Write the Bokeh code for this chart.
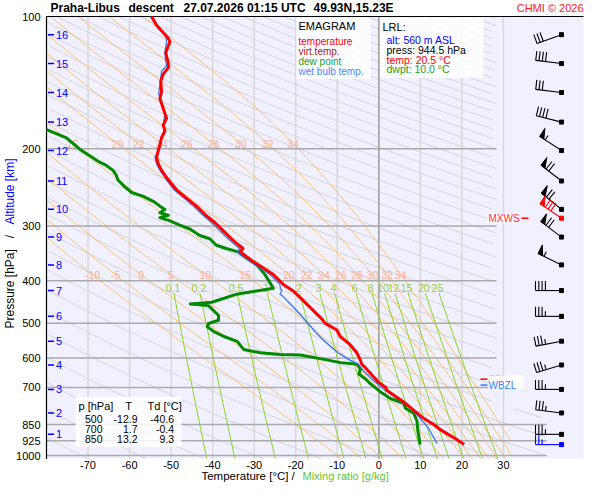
import numpy as np
from bokeh.plotting import figure
from bokeh.models import Range1d
from bokeh.core.properties import value
from bokeh.embed import file_html
from bokeh.resources import INLINE

FONT = "Liberation Sans"

# ---------------- sounding data ----------------
temp_p = [944.5, 938.8, 910.4, 872.0, 850.0, 821.7, 787.0, 754.2, 710.3, 700.0, 680.6, 635.8,
          619.7, 604.0, 583.6, 559.3, 535.7, 517.9, 500.0, 487.7, 451.6, 436.4, 421.9, 407.6,
          387.2, 374.2, 361.7, 343.6, 337.7, 323.6, 307.4, 294.6, 282.2, 270.4, 259.2, 248.2,
          237.9, 229.9, 224.1, 216.6, 209.3, 201.9, 195.8, 188.9, 182.2, 176.7, 170.5, 162.0,
          153.8, 148.4, 140.3, 135.3, 130.6, 127.3, 120.9, 114.1, 112.1, 104.7, 100.0]
temp_T = [20.5, 20.2, 18.0, 14.7, 13.2, 10.7, 8.3, 5.9, 1.9, 1.7, -0.1, -2.9,
          -4.1, -4.5, -5.3, -6.9, -9.3, -10.1, -12.9, -13.8, -17.4, -19.0, -20.6, -23.0,
          -25.4, -27.8, -30.2, -33.4, -32.7, -35.1, -37.5, -39.5, -41.9, -43.9, -46.3, -48.7,
          -50.3, -51.5, -52.3, -53.1, -53.5, -53.1, -52.7, -52.3, -51.5, -51.9, -51.1, -51.9,
          -52.7, -52.3, -52.5, -51.9, -50.6, -50.7, -51.3, -50.3, -50.7, -53.5, -54.7]

dew_p = [181.0, 188.9, 200.6, 207.5, 214.7, 218.4, 224.1, 229.9, 235.8, 244.1, 251.7, 256.9,
         263.6, 270.4, 275.1, 279.9, 283.7, 287.2, 292.1, 298.6, 304.8, 315.4, 320.8, 332.0,
         337.7, 343.6, 355.5, 367.9, 387.2, 404.1, 416.0, 421.9, 429.1, 447.7, 451.6, 455.6,
         467.4, 479.6, 492.0, 500.4, 508.9, 522.1, 535.7, 549.6, 573.8, 583.6, 588.8, 590.6,
         604.0, 614.4, 619.7, 635.8, 652.4, 669.3, 686.7, 716.5, 741.6, 760.8, 780.6, 800.9,
         835.7, 879.7, 938.8, 944.5]
dew_T = [-80.0, -75.2, -72.0, -69.6, -67.2, -65.6, -64.0, -63.2, -62.8, -61.2, -59.5, -56.7,
         -54.3, -52.7, -51.5, -52.7, -50.7, -52.7, -50.3, -47.9, -45.5, -43.1, -40.7, -39.1,
         -36.7, -33.9, -31.8, -29.4, -27.4, -26.2, -25.4, -29.4, -34.2, -40.2, -45.4, -41.0,
         -39.8, -38.6, -38.6, -41.0, -41.3, -39.7, -37.3, -34.1, -32.5, -28.5, -23.7, -18.9,
         -13.2, -9.2, -5.2, -4.4, -4.8, -3.2, -2.0, 0.4, 2.8, 6.0, 6.4, 8.4,
         9.2, 9.4, 9.9, 10.0]

wbt_p = [100.0, 102.1, 107.4, 110.2, 114.1, 121.1, 126.4, 129.7, 133.1, 141.2, 150.0, 159.2,
         167.6, 176.4, 182.5, 187.2, 197.1, 202.2, 209.3, 216.6, 224.1, 229.9, 237.9, 248.2,
         259.2, 270.4, 282.2, 294.6, 307.4, 323.6, 337.7, 343.6, 361.7, 374.2, 387.2, 407.6,
         411.2, 421.9, 429.1, 432.8, 467.4, 500.4, 526.7, 554.4, 583.6, 604.0, 619.7, 641.1,
         674.8, 704.5, 741.6, 767.1, 787.0, 821.7, 864.9, 938.8]
wbt_T = [-55.0, -54.3, -52.7, -51.3, -51.1, -51.5, -51.3, -51.1, -52.3, -52.6, -53.0, -52.1,
         -51.5, -51.9, -51.5, -52.3, -52.5, -52.9, -53.9, -53.5, -52.7, -51.9, -50.8, -49.3,
         -46.9, -44.6, -42.6, -40.3, -38.3, -35.9, -33.5, -34.2, -31.0, -28.6, -26.2, -23.8,
         -23.8, -23.4, -23.8, -23.2, -19.8, -17.0, -15.0, -12.6, -9.8, -7.3, -4.9, -3.7,
         -1.3, 1.1, 4.3, 6.7, 8.1, 9.9, 11.9, 14.0]

alt_km = [1, 2, 3, 4, 5, 6, 7, 8, 9, 10, 11, 12, 13, 14, 15, 16]
alt_p = [895, 800, 707, 622, 549, 482, 421, 368, 318, 275, 237, 202, 174, 149, 128, 110]
wind_dir = [270, 277, 270, 253, 259, 270, 270, 296, 307, 309, 308, 303, 284, 277, 277, 250]
wind_kt = [35, 35, 35, 35, 35, 35, 40, 55, 70, 70, 70, 55, 40, 30, 40, 30]
mxws_p, mxws_dir, mxws_kt = 288.0, 304, 80
sfc_p, sfc_dir, sfc_kt = 944.5, 270, 25
fzl_p, wbzl_p = 670.0, 691.0

tab_p = [500, 700, 850]
tab_T = [-12.9, 1.7, 13.2]
tab_Td = [-40.6, -0.4, 9.3]

lrl_alt, lrl_press, lrl_temp, lrl_dwpt = 560, 944.5, 20.5, 10.0

isotherms = [-70, -60, -50, -40, -30, -20, -10, 0, 10, 20, 30]
isobars = [200, 300, 400, 500, 600, 700, 850, 925, 1000]
isobars_long = [850, 925, 1000]
p_ticks = [100, 200, 300, 400, 500, 600, 700, 850, 925, 1000]
theta_w = [-10, -5, 0, 5, 10, 15, 20, 22, 24, 26, 28, 30, 32, 34]
theta_w_top = [15, 20, 22, 24, 26, 28, 30, 32, 34]
mix_ratio = [0.1, 0.2, 0.5, 1, 2, 3, 4, 6, 8, 10, 12, 15, 20, 25]
mix_labels = ["0.1", "0.2", "0.5", "1", "2", "3", "4", "6", "8", "10", "12", "15", "20", "25"]

# ---------------- geometry (canvas pixels) ----------------
W, H = 584, 484
T0 = -80.0
X_LEFT, X_RIGHT = 46.0, 583.0          # diagram frame
Y_TOP, Y_1000, Y_BOT = 16.0, 455.0, 458.0
SX = 4.154
SY = (Y_1000 - Y_TOP) / np.log(10.0)
P_TOP = 100.0


def x2T(x):
    return T0 + (x - X_LEFT) / SX


def y2p(y):
    return P_TOP * np.exp((y - Y_TOP) / SY)


def T2x(T):
    return X_LEFT + (T - T0) * SX


def p2y(pp):
    return Y_TOP + SY * np.log(pp / P_TOP)


def ref(x, y):
    return x2T(x), y2p(Y_TOP + (y - 16.0) * SY / 195.0)


T_RIGHT = x2T(X_RIGHT)
P_BOT = y2p(Y_BOT)

p = figure(width=W, height=H, x_range=Range1d(x2T(0), x2T(W)), y_range=Range1d(y2p(H), y2p(0)),
           y_axis_type="log", x_axis_location=None, y_axis_location=None,
           output_backend="svg", toolbar_location=None,
           min_border_left=0, min_border_right=0, min_border_top=0, min_border_bottom=0)
p.background_fill_color = "white"
p.border_fill_color = "white"
p.outline_line_color = None
p.xgrid.visible = False
p.ygrid.visible = False

# diagram background
p.quad(left=[T0], right=[T_RIGHT], top=[P_TOP], bottom=[P_BOT], fill_color="#f0f0ff",
       line_color=None)

# ---------------- background diagram lines ----------------
lp = np.linspace(np.log(P_TOP), np.log(P_BOT), 240)
pp = np.exp(lp)

gx, gy = [], []
for th in np.arange(187.5, 900.0, 14.0):
    T = th * (pp / 1000.0) ** 0.45 - 273.15
    tmax = np.where(pp < 780, 28.4, 40.4)
    T = np.where((T <= tmax) & (T >= T0), T, np.nan)
    gx.append(list(T))
    gy.append(list(pp))
p.multi_line(gx, gy, line_color="#d4d4da", line_width=1)

p.segment(x0=isotherms, y0=[P_BOT] * len(isotherms), x1=isotherms, y1=[P_TOP] * len(isotherms),
          line_color="#d8d8d8", line_width=1.5)
p.segment(x0=[0], y0=[P_BOT], x1=[0], y1=[P_TOP], line_color="#a0a0a0", line_width=1.5)


def es(Tk):
    return 6.112 * np.exp(17.67 * (Tk - 273.15) / (Tk - 29.65))


def dTdlnp(T, P):
    e = es(T)
    rs = 0.622 * e / (P - e)
    return (287.04 * T + 2.501e6 * rs) / (1005.7 + 2.501e6 ** 2 * rs * 0.622 / (287.04 * T * T))


def integrate(T, lnps):
    out = [T]
    for i in range(len(lnps) - 1):
        h = lnps[i + 1] - lnps[i]
        P0, Pm, P1 = np.exp(lnps[i]), np.exp(lnps[i] + h / 2), np.exp(lnps[i + 1])
        k1 = dTdlnp(T, P0)
        k2 = dTdlnp(T + h / 2 * k1, Pm)
        k3 = dTdlnp(T + h / 2 * k2, Pm)
        k4 = dTdlnp(T + h * k3, P1)
        T = T + h / 6 * (k1 + 2 * k2 + 2 * k3 + k4)
        out.append(T)
    return np.array(out)


up_l = np.linspace(np.log(1000.0), np.log(P_TOP), 240)
dn_l = np.linspace(np.log(1000.0), np.log(P_BOT), 6)
ox, oy, adiab = [], [], {}
for tw in theta_w:
    Tu = integrate(tw + 273.15, up_l)
    Tdn = integrate(tw + 273.15, dn_l)
    l_all = np.concatenate([dn_l[::-1], up_l[1:]])
    T_all = np.concatenate([Tdn[::-1], Tu[1:]]) - 273.15
    adiab[tw] = (l_all[::-1], T_all[::-1])
    Tc = np.where((T_all <= 32.0) & (T_all >= T0), T_all, np.nan)
    ox.append(list(Tc))
    oy.append(list(np.exp(l_all)))
p.multi_line(ox, oy, line_color="#ffbf70", line_width=1)

mp = np.exp(np.linspace(np.log(ref(0, 299)[1]), np.log(P_BOT), 40))
mx, my = [], []
for w in mix_ratio:
    e = w / 1000.0 * mp / (0.622 + w / 1000.0)
    a = np.log(e / 6.112)
    mx.append(list(243.5 * a / (17.67 - a)))
    my.append(list(mp))
p.multi_line(mx, my, line_color="#8ad61e", line_width=1)

short = [b for b in isobars if b not in isobars_long]
p.segment(x0=[T0] * len(short), y0=short, x1=[x2T(496)] * len(short), y1=short,
          line_color="#aaaaaa", line_width=1.5)
p.segment(x0=[T0] * len(isobars_long), y0=isobars_long, x1=[x2T(546)] * len(isobars_long),
          y1=isobars_long, line_color="#aaaaaa", line_width=1.5)

# frame lines (left axis and top border)
p.segment(x0=[T0], y0=[P_BOT + 3], x1=[T0], y1=[P_TOP], line_color="black", line_width=1.2)
p.segment(x0=[T0], y0=[P_TOP], x1=[T_RIGHT], y1=[P_TOP], line_color="black", line_width=1.2)


def ctext(xc, yc, s, color, size, align="left", style="normal", angle=0.0):
    p.text(x=[x2T(xc)], y=[y2p(yc)], text=[s], text_color=color, text_font=value(FONT),
           text_font_size=size, text_align=align, text_baseline="middle",
           text_font_style=style, angle=angle)


def ptext(xr, yr, s, color, size, align="left", style="normal"):
    T, P = ref(xr, yr)
    p.text(x=[T], y=[P], text=[s], text_color=color, text_font=value(FONT),
           text_font_size=size, text_align=align, text_baseline="middle", text_font_style=style)


def pbox(x0, x1, y0, y1, alpha=0.85):
    l, t = ref(x0, y0)
    r, b = ref(x1, y1)
    p.quad(left=[l], right=[r], top=[t], bottom=[b], fill_color="white", fill_alpha=alpha,
           line_color=None)


# axis tick labels (pressure and temperature)
p.text(x=[x2T(40)] * len(p_ticks), y=p_ticks, text=["%d" % v for v in p_ticks],
       text_color="black", text_font=value(FONT), text_font_size="11px",
       text_align="right", text_baseline="middle")
p.text(x=isotherms, y=[y2p(464.5)] * len(isotherms), text=["%d" % v for v in isotherms],
       text_color="black", text_font=value(FONT), text_font_size="11px",
       text_align="center", text_baseline="middle")

# labels of the diagram lines
lab_lo = ref(0, 280)[1]
lab_hi = ref(0, 146)[1]
for tw in theta_w:
    la, Ta = adiab[tw]
    T = float(np.interp(np.log(lab_lo), la, Ta))
    p.text(x=[T], y=[lab_lo], text=[str(tw)], text_color="#ffae94", text_font=value(FONT),
           text_font_size="10.5px", text_align="center", text_baseline="middle")
    if tw in theta_w_top:
        T = float(np.interp(np.log(lab_hi), la, Ta))
        p.text(x=[T], y=[lab_hi], text=[str(tw)], text_color="#ffae94", text_font=value(FONT),
               text_font_size="10.5px", text_align="center", text_baseline="middle")
mlab = ref(0, 294)[1]
for w, s in zip(mix_ratio, mix_labels):
    e = w / 1000.0 * mlab / (0.622 + w / 1000.0)
    a = np.log(e / 6.112)
    p.text(x=[243.5 * a / (17.67 - a)], y=[mlab], text=[s], text_color="#96d23c",
           text_font=value(FONT), text_font_size="10.5px", text_align="center",
           text_baseline="middle")

# ---------------- boxes ----------------
pbox(296, 370, 17, 80)
pbox(379.5, 483, 17, 79)
pbox(75, 181, 405, 456)

ptext(298, 26, "EMAGRAM", "black", "11px")
ptext(298, 42, "temperature", "#ff0000", "10px")
ptext(298, 52, "virt.temp.", "#a52020", "10px")
ptext(298, 62, "dew point", "#22a022", "10px")
ptext(298, 72, "wet bulb temp.", "#4a86ff", "10px")

ptext(382, 27, "LRL:", "black", "11px")
ptext(386, 40, "alt: %d m ASL" % lrl_alt, "#0000ff", "10.5px")
ptext(386, 50, "press: %.1f hPa" % lrl_press, "black", "10.5px")
ptext(386, 60, "temp: %.1f \u00b0C" % lrl_temp, "#ff0000", "10.5px")
ptext(386, 70, "dwpt: %.1f \u00b0C" % lrl_dwpt, "#22a022", "10.5px")

ptext(78, 414, "p [hPa]", "black", "11px")
ptext(128, 414, "T", "black", "11px", align="center")
ptext(147, 414, "Td [\u00b0C]", "black", "11px")
for i, (a, b, c) in enumerate(zip(tab_p, tab_T, tab_Td)):
    yy = 428 + 10 * i
    ptext(102, yy, "%d" % a, "black", "10.5px", align="right")
    ptext(137, yy, "%.1f" % b, "black", "10.5px", align="right")
    ptext(173.5, yy, "%.1f" % c, "black", "10.5px", align="right")

# altitude scale
xa0, xa1 = ref(47.5, 0)[0], ref(53.5, 0)[0]
p.segment(x0=[xa0] * len(alt_p), y0=alt_p, x1=[xa1] * len(alt_p), y1=alt_p,
          line_color="#0000ff", line_width=1.5)
p.text(x=[ref(55.5, 0)[0]] * len(alt_p), y=alt_p, text=[str(k) for k in alt_km],
       text_color="#0000ff", text_font=value(FONT), text_font_size="11px",
       text_align="left", text_baseline="middle")

# ---------------- profiles ----------------
p.line(dew_T, dew_p, line_color="#008a00", line_width=3, line_join="round")
p.line(wbt_T, wbt_p, line_color="#2a70f0", line_width=1.2, line_join="round")
p.line(temp_T, temp_p, line_color="#ff0000", line_width=3, line_join="round")

# ---------------- FZL / WBZL / MXWS markers ----------------
fx0, fx1 = ref(480, 0)[0], ref(487, 0)[0]
p.segment(x0=[fx0], y0=[fzl_p], x1=[fx1], y1=[fzl_p], line_color="#ff0000", line_width=1.5)
p.text(x=[ref(488, 0)[0]], y=[fzl_p], text=["FZL"], text_color="#ff0000", text_font=value(FONT),
       text_font_size="10px", text_align="left", text_baseline="middle")
pbox(488, 523, 383, 397, alpha=0.9)
p.segment(x0=[fx0], y0=[wbzl_p], x1=[fx1], y1=[wbzl_p], line_color="#3a7af5", line_width=1.5)
p.text(x=[ref(488, 0)[0]], y=[wbzl_p], text=["WBZL"], text_color="#3a7af5",
       text_font=value(FONT), text_font_size="10px", text_align="left", text_baseline="middle")

pbox(487, 517.5, 217.5, 227.5, alpha=0.9)
p.text(x=[ref(488, 0)[0]], y=[mxws_p], text=["MXWS"], text_color="#ff3030",
       text_font=value(FONT), text_font_size="10px", text_align="left", text_baseline="middle")
p.segment(x0=[ref(521, 0)[0]], y0=[mxws_p], x1=[ref(528, 0)[0]], y1=[mxws_p],
          line_color="#ff0000", line_width=1.5)

# ---------------- wind barbs ----------------
T_ANCHOR = ref(561, 0)[0]


def barb(P, d, kt, color):
    ax, ay = T2x(T_ANCHOR), p2y(P)
    r = np.radians(d)
    ux, uy = np.sin(r), np.cos(r)
    dxs, dys = ux, -uy
    tx, ty = uy, ux
    L, TL, SP = 26.0, 9.5, 3.3
    ex, ey = ax + L * dxs, ay + L * dys

    def pt(s, h=0.0):
        return (x2T(ex - s * dxs + h * tx), y2p(ey - s * dys + h * ty))

    segs = [[(x2T(ax), y2p(ay)), pt(0)]]
    tris = []
    n50 = kt // 50
    rem = kt - 50 * n50
    n10 = rem // 10
    n5 = (rem - 10 * n10) // 5
    s = 0.0
    for _ in range(n50):
        tris.append([pt(s), pt(s, TL), pt(s + 5)])
        s += 6.5
    for _ in range(n10):
        segs.append([pt(s), pt(s, TL)])
        s += SP
    for _ in range(n5):
        if s == 0.0:
            s = SP
        segs.append([pt(s), pt(s, TL * 0.55)])
        s += SP
    xs = [[a[0] for a in sg] for sg in segs]
    ys = [[a[1] for a in sg] for sg in segs]
    p.multi_line(xs, ys, line_color=color, line_width=1.1)
    if tris:
        p.patches([[a[0] for a in t] for t in tris], [[a[1] for a in t] for t in tris],
                  fill_color=color, line_color=color, line_width=1)
    p.scatter([T_ANCHOR], [P], marker="square", size=4, fill_color=color, line_color=color)


for P, d, kt in zip(alt_p, wind_dir, wind_kt):
    barb(P, d, kt, "black")
barb(mxws_p, mxws_dir, mxws_kt, "#ff0000")
barb(sfc_p, sfc_dir, sfc_kt, "#0000ff")

# ---------------- title and axis titles ----------------
ty = 7.5
ctext(50, ty, "Praha-Libus", "black", "12px", style="bold")
ctext(128, ty, "descent", "black", "12px", style="bold")
ctext(183, ty, "27.07.2026 01:15 UTC", "black", "12px", style="bold")
ctext(313, ty, "49.93N,15.23E", "black", "12px", style="bold")
ctext(583, ty, "CHMI \u00a9 2026", "#ff2020", "11px", align="right")

ctext(288, 475.5, "Temperature [\u00b0C]", "black", "11.5px", align="right")
ctext(292.5, 475.5, "/", "black", "11.5px", align="center")
ctext(302, 475.5, "Mixing ratio [g/kg]", "#5cc832", "11px")

ctext(9, 328, "Pressure [hPa]", "black", "12px", angle=np.pi / 2)
ctext(9, 236, "/", "black", "12px", align="center", angle=np.pi / 2)
ctext(9, 224, "Altitude [km]", "#0000ff", "12px", angle=np.pi / 2)

open("out.html", "w").write(file_html(p, INLINE))
